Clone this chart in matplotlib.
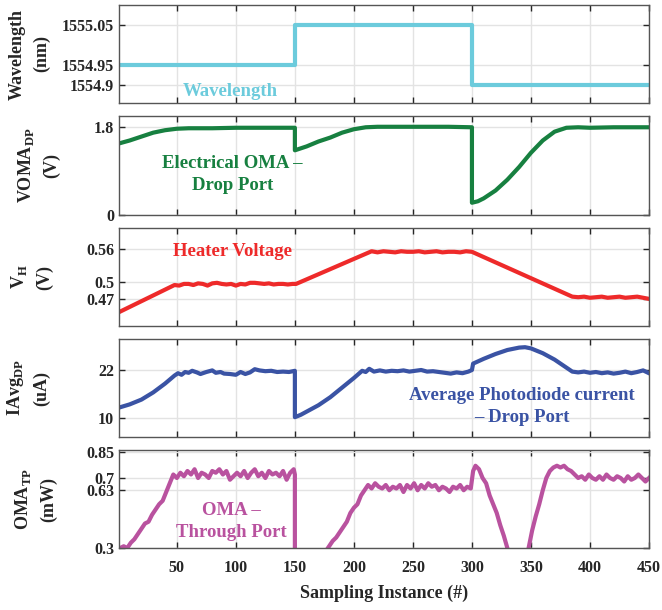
import matplotlib
matplotlib.use("Agg")
import matplotlib.pyplot as plt

plt.rcParams["font.family"] = ["Liberation Serif", "DejaVu Serif"]
plt.rcParams["font.weight"] = "bold"
plt.rcParams["mathtext.fontset"] = "custom"
plt.rcParams["mathtext.rm"] = "Liberation Serif:bold"
plt.rcParams["mathtext.bf"] = "Liberation Serif:bold"

# ---- data ----
wl_x = [1, 150, 150, 300, 300, 450]
wl_y = [1554.95, 1554.95, 1555.05, 1555.05, 1554.90, 1554.90]

voma_x = [1, 10, 20, 30, 40, 50, 60, 80, 100, 120, 140, 150,
          150, 160, 170, 180, 190, 200, 210, 220, 240, 260, 280, 300,
          300, 305, 310, 320, 330, 340, 350, 360, 370, 380, 390, 400, 420, 440, 450]
voma_y = [1.46, 1.52, 1.60, 1.68, 1.73, 1.76, 1.77, 1.77, 1.78, 1.78, 1.78, 1.78,
          1.32, 1.40, 1.50, 1.58, 1.68, 1.75, 1.79, 1.80, 1.80, 1.80, 1.80, 1.79,
          0.25, 0.28, 0.34, 0.50, 0.72, 0.98, 1.27, 1.52, 1.70, 1.78, 1.79, 1.78, 1.79, 1.79, 1.79]

vh_x = [1, 48, 52, 56, 60, 64, 68, 72, 76, 80, 84, 88, 92, 96, 100, 104, 108,
        112, 116, 120, 124, 128, 132, 136, 140, 144, 148, 151,
        215, 220, 225, 230, 235, 240, 245, 250, 255, 260, 265, 270, 275, 280,
        285, 290, 295, 300, 385, 390, 395, 400, 405, 410, 415, 420, 425, 430,
        435, 440, 445, 450]
vh_y = [0.446, 0.495, 0.494, 0.497, 0.497, 0.495, 0.498, 0.497, 0.494, 0.498,
        0.499, 0.497, 0.496, 0.497, 0.494, 0.497, 0.496, 0.499, 0.499, 0.498,
        0.497, 0.498, 0.496, 0.497, 0.497, 0.496, 0.497, 0.497,
        0.556, 0.554, 0.556, 0.555, 0.554, 0.556, 0.555, 0.555, 0.556, 0.554,
        0.555, 0.556, 0.554, 0.555, 0.555, 0.554, 0.556, 0.555,
        0.474, 0.473, 0.474, 0.472, 0.473, 0.474, 0.472, 0.473, 0.474, 0.472,
        0.473, 0.474, 0.472, 0.470]

iavg_x = [1, 10, 20, 30, 40, 48, 51, 54, 57, 60, 63, 67, 70, 75, 80, 83, 87, 90,
          95, 100, 104, 108, 112, 116, 120, 125, 130, 135, 140, 145, 150,
          150, 155, 160, 170, 180, 190, 200, 207, 210, 213, 217, 222, 227, 232,
          237, 242, 247, 252, 257, 262, 267, 272, 277, 282, 287, 292, 297, 300,
          301, 310, 320, 330, 340, 345, 350, 360, 370, 380, 385, 390, 395, 400,
          405, 410, 415, 420, 425, 430, 435, 440, 445, 450]
iavg_y = [12.6, 13.4, 14.6, 16.4, 18.6, 20.6, 21.2, 20.8, 21.5, 21.3, 21.8, 21.4,
          21.0, 21.5, 21.9, 21.3, 21.5, 21.1, 21.0, 20.8, 21.5, 21.0, 21.4, 22.2,
          21.9, 21.7, 21.8, 21.5, 21.6, 21.5, 21.8,
          10.2, 10.8, 11.6, 13.2, 15.2, 17.6, 20.0, 21.8, 21.5, 22.3, 21.6, 21.9,
          21.6, 21.8, 21.7, 21.9, 21.6, 21.8, 22.0, 21.6, 21.7, 21.5, 21.3, 21.1,
          21.4, 21.2, 21.6, 22.0,
          23.6, 24.8, 26.0, 27.0, 27.6, 27.7, 27.4, 26.2, 24.6, 22.6, 21.6, 21.4,
          21.6, 21.3, 21.5, 21.2, 21.4, 21.1, 21.3, 21.6, 21.2, 21.5, 21.9, 21.2]

oma_x = [2, 5, 8, 11, 14, 17, 20, 23, 26, 29, 32, 35, 38, 41, 44, 47, 50, 53,
         56, 59, 62, 65, 68, 71, 74, 77, 80, 83, 86, 89, 92, 95, 98, 101, 104,
         107, 110, 113, 116, 119, 122, 125, 128, 131, 134, 137, 140, 143, 146,
         149, 150, 150, 174,
         176, 179, 182, 185, 188, 191, 194, 197, 200, 203, 206, 209, 212, 215,
         218, 221, 224, 227, 230, 233, 236, 239, 242, 245, 248, 251, 254, 257,
         260, 263, 266, 269, 272, 275, 278, 281, 284, 287, 290, 293, 296, 299,
         301, 303, 306, 309, 312, 315, 318, 321, 324, 327, 330, 333, 345,
         348, 351, 354, 357, 360, 363, 366, 369, 372, 375, 378, 381, 384, 387,
         390, 393, 396, 399, 402, 405, 408, 411, 414, 417, 420, 423, 426, 429,
         432, 435, 438, 441, 444, 447, 450]
oma_y = [0.30, 0.31, 0.30, 0.33, 0.35, 0.38, 0.41, 0.44, 0.45, 0.49, 0.52, 0.55,
         0.57, 0.62, 0.67, 0.72, 0.70, 0.73, 0.71, 0.74, 0.72, 0.75, 0.70, 0.73,
         0.72, 0.70, 0.74, 0.73, 0.75, 0.72, 0.74, 0.69, 0.71, 0.73, 0.71, 0.74,
         0.70, 0.73, 0.75, 0.71, 0.73, 0.70, 0.74, 0.72, 0.73, 0.71, 0.74, 0.69,
         0.73, 0.75, 0.72, 0.20, 0.20,
         0.28, 0.31, 0.34, 0.36, 0.39, 0.42, 0.45, 0.50, 0.53, 0.55, 0.60, 0.63,
         0.66, 0.64, 0.67, 0.65, 0.64, 0.66, 0.63, 0.65, 0.64, 0.66, 0.62, 0.66,
         0.64, 0.67, 0.63, 0.66, 0.64, 0.67, 0.65, 0.66, 0.63, 0.65, 0.64, 0.62,
         0.65, 0.64, 0.66, 0.63, 0.65, 0.64,
         0.74, 0.77, 0.75, 0.70, 0.67, 0.60, 0.55, 0.50, 0.43, 0.37, 0.30, 0.20, 0.20,
         0.30, 0.40, 0.48, 0.55, 0.63, 0.70, 0.74, 0.76, 0.77, 0.76, 0.77, 0.75,
         0.74, 0.72, 0.70, 0.71, 0.69, 0.72, 0.70, 0.69, 0.71, 0.69, 0.72, 0.70,
         0.69, 0.71, 0.70, 0.68, 0.71, 0.69, 0.70, 0.72, 0.70, 0.68, 0.70]

x_ticks = [50, 100, 150, 200, 250, 300, 350, 400, 450]

# ---- figure ----
W, H = 662, 610
fig = plt.figure(figsize=(W / 100, H / 100), dpi=100)

rows_px = [(5, 103), (116, 215), (228, 326), (339, 437), (450, 548)]
left_px, right_px = 119, 649

panels = [
    dict(x=wl_x, y=wl_y, color="#6ccbdc", ylim=(1554.855, 1555.10),
         yticks=[1554.9, 1554.95, 1555.05], yticklabels=["1554.9", "1554.95", "1555.05"],
         ylabel="Wavelength\n(nm)", lw=3.0,
         text="Wavelength", tx=95, ty=1554.885),
    dict(x=voma_x, y=voma_y, color="#178040", ylim=(0, 2.02),
         yticks=[0, 1.8], yticklabels=["0", "1.8"],
         ylabel="VOMA$_{\\mathbf{DP}}$\n(V)", lw=3.0,
         text="Electrical OMA \u2013\nDrop Port", tx=97, ty=0.82),
    dict(x=vh_x, y=vh_y, color="#ee2a2a", ylim=(0.421, 0.598),
         yticks=[0.47, 0.5, 0.56], yticklabels=["0.47", "0.5", "0.56"],
         ylabel="V$_{\\mathbf{H}}$\n(V)", lw=3.0,
         text="Heater Voltage", tx=97, ty=0.555),
    dict(x=iavg_x, y=iavg_y, color="#3a53a4", ylim=(5.25, 29.75),
         yticks=[10, 22], yticklabels=["10", "22"],
         ylabel="IAvg$_{\\mathbf{DP}}$\n(uA)", lw=3.0,
         text="Average Photodiode current\n\u2013 Drop Port", tx=342, ty=12.8),
    dict(x=oma_x, y=oma_y, color="#b9529f", ylim=(0.3, 0.86),
         yticks=[0.3, 0.63, 0.7, 0.85], yticklabels=["0.3", "0.63", "0.7", "0.85"],
         ylabel="OMA$_{\\mathbf{TP}}$\n(mW)", lw=3.0,
         text="OMA \u2013\nThrough Port", tx=96, ty=0.452),
]

label_x = [-0.13, -0.111, -0.125, -0.13, -0.117]

for i, (p, (top, bot)) in enumerate(zip(panels, rows_px)):
    ax = fig.add_axes([left_px / W, 1 - bot / H, (right_px - left_px) / W, (bot - top) / H])
    ax.plot(p["x"], p["y"], color=p["color"], linewidth=p["lw"], solid_joinstyle="round")
    ax.set_xlim(1, 450)
    ax.set_ylim(*p["ylim"])
    ax.set_xticks(x_ticks)
    ax.set_yticks(p["yticks"])
    ax.set_yticklabels(p["yticklabels"])
    ax.grid(True, color="#e3e3e3", linewidth=1.0)
    ax.set_axisbelow(True)
    ax.tick_params(direction="in", top=True, right=True, length=4,
                   colors="#262626", labelsize=11.5, width=1.0)
    ax.tick_params(axis="x", pad=9)
    for s in ax.spines.values():
        s.set_color("#555555")
        s.set_linewidth(1.0)
    if i < 4:
        ax.set_xticklabels([])
    else:
        ax.set_xlabel("Sampling Instance (#)", fontsize=13, fontweight="bold",
                      color="#262626", labelpad=6)
    ax.set_ylabel(p["ylabel"], fontsize=13, fontweight="bold", color="#262626",
                  linespacing=1.5)
    ax.yaxis.set_label_coords(label_x[i], 0.5)
    ax.text(p["tx"], p["ty"], p["text"], color=p["color"], fontsize=13.5,
            fontweight="bold", ha="center", va="center", linespacing=1.4)

fig.savefig("out.png", dpi=100)
